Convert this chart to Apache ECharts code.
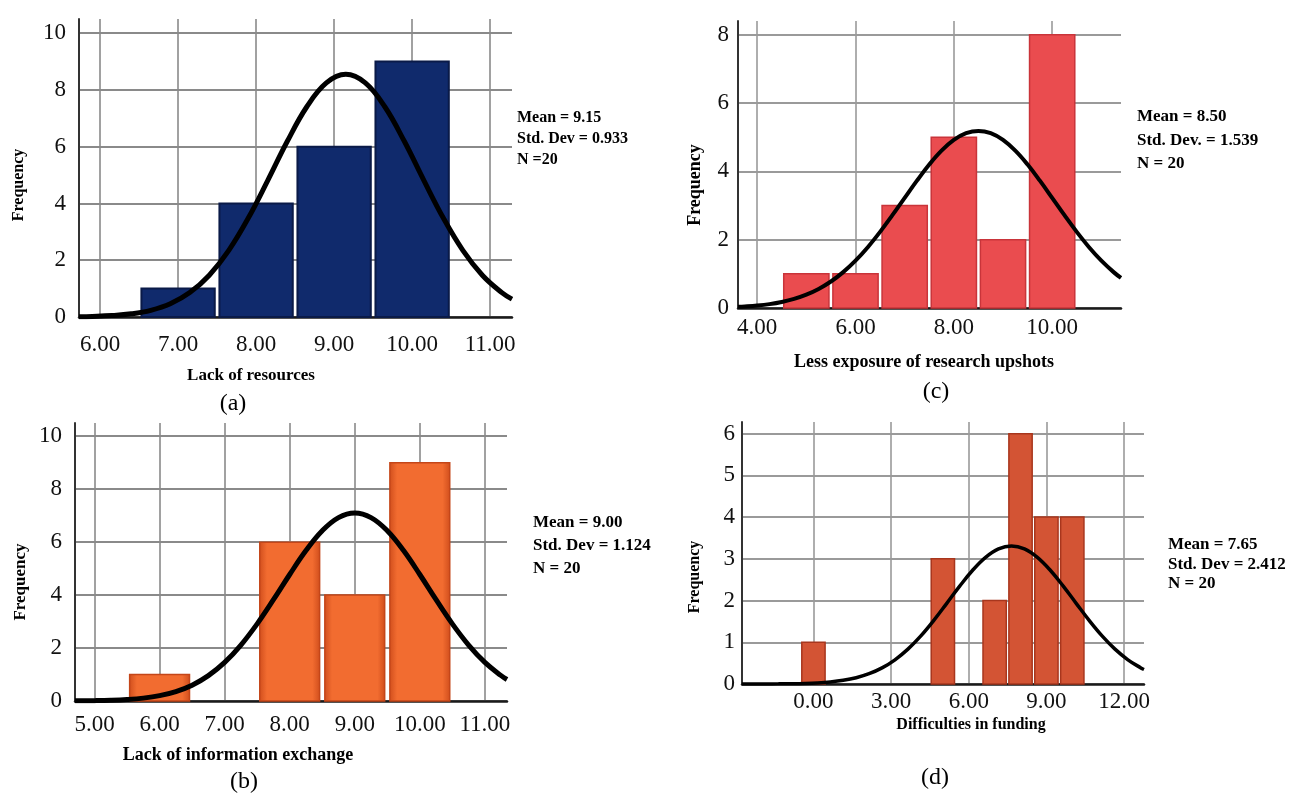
<!DOCTYPE html>
<html>
<head>
<meta charset="utf-8">
<script src="https://cdn.jsdelivr.net/npm/echarts@6/dist/echarts.min.js"></script>
<style>
  html, body { margin: 0; padding: 0; background: #fff; }
  #main { width: 1299px; height: 794px; }
</style>
</head>
<body>
<div id="main"></div>
<script>
// (a) Lack of resources
var binsA = [7, 8, 9, 10];
var countsA = [1, 4, 6, 9];
var curveXA = [5.73, 5.9, 6.15, 6.4, 6.65, 6.9, 7.15, 7.4, 7.65, 7.9, 8.15, 8.4, 8.65, 8.9, 9.15, 9.4, 9.65, 9.9, 10.15, 10.4, 10.65, 10.9, 11.15, 11.28];
var curveYA = [0.01, 0.02, 0.049, 0.111, 0.236, 0.467, 0.86, 1.473, 2.348, 3.486, 4.815, 6.191, 7.408, 8.25, 8.552, 8.25, 7.408, 6.191, 4.815, 3.486, 2.348, 1.473, 0.86, 0.631];
var ticksXA = [6, 7, 8, 9, 10, 11];
var ticksYA = [0, 2, 4, 6, 8, 10];

// (b) Lack of information exchange
var binsB = [6, 8, 9, 10];
var countsB = [1, 6, 4, 9];
var curveXB = [4.7, 5.0, 5.25, 5.5, 5.75, 6.0, 6.25, 6.5, 6.75, 7.0, 7.25, 7.5, 7.75, 8.0, 8.25, 8.5, 8.75, 9.0, 9.25, 9.5, 9.75, 10.0, 10.25, 10.5, 10.75, 11.0, 11.25, 11.34];
var curveYB = [0.005, 0.013, 0.027, 0.056, 0.109, 0.202, 0.356, 0.598, 0.958, 1.458, 2.113, 2.914, 3.825, 4.778, 5.682, 6.43, 6.926, 7.099, 6.926, 6.43, 5.682, 4.778, 3.825, 2.914, 2.113, 1.458, 0.958, 0.813];
var ticksXB = [5, 6, 7, 8, 9, 10, 11];
var ticksYB = [0, 2, 4, 6, 8, 10];

// (c) Less exposure of research upshots
var binsC = [5, 6, 7, 8, 9, 10];
var countsC = [1, 1, 3, 5, 2, 8];
var curveXC = [3.61, 3.75, 4.0, 4.25, 4.5, 4.75, 5.0, 5.25, 5.5, 5.75, 6.0, 6.25, 6.5, 6.75, 7.0, 7.25, 7.5, 7.75, 8.0, 8.25, 8.5, 8.75, 9.0, 9.25, 9.5, 9.75, 10.0, 10.25, 10.5, 10.75, 11.0, 11.25, 11.4];
var curveYC = [0.033, 0.044, 0.072, 0.114, 0.177, 0.266, 0.39, 0.557, 0.775, 1.05, 1.386, 1.78, 2.228, 2.716, 3.224, 3.727, 4.198, 4.604, 4.918, 5.116, 5.184, 5.116, 4.918, 4.604, 4.198, 3.727, 3.224, 2.716, 2.228, 1.78, 1.386, 1.05, 0.879];
var ticksXC = [4, 6, 8, 10];
var ticksYC = [0, 2, 4, 6, 8];

// (d) Difficulties in funding
var binsD = [0, 5, 7, 8, 9, 10];
var countsD = [1, 3, 2, 6, 4, 4];
var curveXD = [-2.76, -2.35, -1.85, -1.35, -0.85, -0.35, 0.15, 0.65, 1.15, 1.65, 2.15, 2.65, 3.15, 3.65, 4.15, 4.65, 5.15, 5.65, 6.15, 6.65, 7.15, 7.65, 8.15, 8.65, 9.15, 9.65, 10.15, 10.65, 11.15, 11.65, 12.15, 12.65, 12.77];
var curveYD = [0.0003, 0.0006, 0.0014, 0.0031, 0.0067, 0.0135, 0.0263, 0.0491, 0.0876, 0.15, 0.246, 0.386, 0.58, 0.836, 1.154, 1.526, 1.933, 2.346, 2.726, 3.035, 3.238, 3.308, 3.238, 3.035, 2.726, 2.346, 1.933, 1.526, 1.154, 0.836, 0.58, 0.386, 0.348];
var ticksXD = [0, 3, 6, 9, 12];
var ticksYD = [0, 1, 2, 3, 4, 5, 6];

var statsA = ['Mean = 9.15', 'Std. Dev = 0.933', 'N =20'];
var statsB = ['Mean = 9.00', 'Std. Dev = 1.124', 'N = 20'];
var statsC = ['Mean = 8.50', 'Std. Dev. = 1.539', 'N = 20'];
var statsD = ['Mean = 7.65', 'Std. Dev = 2.412', 'N = 20'];

var myChart = echarts.init(document.getElementById('main'));

function zip(xs, ys) {
    return xs.map(function (x, i) { return [x, ys[i]]; });
}

// histogram bar drawn from bin center +- half width, down to 0
function barRender(half) {
    return function (params, api) {
        var x = api.value(0), y = api.value(1);
        var p0 = api.coord([x - half, y]);
        var p1 = api.coord([x + half, 0]);
        return {
            type: 'rect',
            shape: { x: p0[0], y: p0[1], width: p1[0] - p0[0], height: p1[1] - p0[1] },
            style: api.style()
        };
    };
}

var serif = '"Liberation Serif", "Times New Roman", serif';

function xAxisOf(idx, min, max, ticks, margin, gridColor) {
    return {
        type: 'value', gridIndex: idx, min: min, max: max,
        axisLine: { show: true, onZero: false, lineStyle: { color: '#1a1a1a', width: 2.5 } },
        axisTick: { show: false, customValues: ticks },
        axisLabel: {
            customValues: ticks, margin: margin, color: '#111',
            fontFamily: serif, fontSize: 23,
            formatter: function (v) { return v.toFixed(2); }
        },
        splitLine: { show: true, lineStyle: { color: gridColor, width: 1.6 } }
    };
}

function yAxisOf(idx, max, ticks, margin, gridColor) {
    return {
        type: 'value', gridIndex: idx, min: 0, max: max,
        axisLine: { show: true, onZero: false, lineStyle: { color: '#333', width: 2 } },
        axisTick: { show: false, customValues: ticks },
        axisLabel: {
            customValues: ticks, margin: margin, color: '#111',
            fontFamily: serif, fontSize: 23
        },
        splitLine: { show: true, lineStyle: { color: gridColor, width: 1.8 } }
    };
}

function curve(idx, xs, ys, w) {
    return {
        type: 'line', xAxisIndex: idx, yAxisIndex: idx, z: 5,
        data: zip(xs, ys), smooth: 0.4, showSymbol: false, silent: true,
        lineStyle: { color: '#000', width: w }
    };
}

function hist(idx, bins, counts, half, itemStyle) {
    return {
        type: 'custom', xAxisIndex: idx, yAxisIndex: idx, z: 3,
        data: zip(bins, counts), encode: { x: 0, y: 1 },
        renderItem: barRender(half), itemStyle: itemStyle
    };
}

function txt(x, y, text, font, rot) {
    return {
        type: 'text', x: x, y: y, rotation: rot || 0,
        style: { text: text, font: font, fill: '#000', textAlign: 'center', textVerticalAlign: 'middle' }
    };
}

function stats(x, y, lines, size, lh) {
    return {
        type: 'text', x: x, y: y,
        style: {
            text: lines.join('\n'), font: 'bold ' + size + 'px ' + serif, fill: '#000',
            lineHeight: lh, textAlign: 'left', textVerticalAlign: 'top'
        }
    };
}

var orangeGrad = new echarts.graphic.LinearGradient(0, 0, 1, 0, [
    { offset: 0, color: '#cf4d1c' },
    { offset: 0.13, color: '#f26c30' },
    { offset: 0.87, color: '#f26c30' },
    { offset: 1, color: '#cf4d1c' }
]);

var option = {
    backgroundColor: '#fff',
    animation: false,
    grid: [
        { left: 79, top: 19, width: 433, height: 298 },
        { left: 75, top: 423, width: 432, height: 278 },
        { left: 738, top: 21, width: 383, height: 287 },
        { left: 742, top: 422, width: 402, height: 262 }
    ],
    xAxis: [
        xAxisOf(0, 5.73, 11.28, ticksXA, 16, '#8a8a8a'),
        xAxisOf(1, 4.70, 11.34, ticksXB, 12, '#8a8a8a'),
        xAxisOf(2, 3.61, 11.40, ticksXC, 8, '#9a9a9a'),
        xAxisOf(3, -2.76, 12.77, ticksXD, 6, '#9a9a9a')
    ],
    yAxis: [
        yAxisOf(0, 10.5, ticksYA, 13, '#8a8a8a'),
        yAxisOf(1, 10.5, ticksYB, 13, '#8a8a8a'),
        yAxisOf(2, 8.4, ticksYC, 9, '#9a9a9a'),
        yAxisOf(3, 6.28, ticksYD, 7, '#9a9a9a')
    ],
    series: [
        hist(0, binsA, countsA, 0.47, { color: '#102a6c', borderColor: '#0a1a48', borderWidth: 2 }),
        curve(0, curveXA, curveYA, 5),
        hist(1, binsB, countsB, 0.46, { color: orangeGrad, borderColor: '#c44619', borderWidth: 1.5 }),
        curve(1, curveXB, curveYB, 5),
        hist(2, binsC, countsC, 0.46, { color: '#ea4c4f', borderColor: '#c9343a', borderWidth: 1.5 }),
        curve(2, curveXC, curveYC, 4),
        hist(3, binsD, countsD, 0.45, { color: '#d35434', borderColor: '#a8361d', borderWidth: 1.5 }),
        curve(3, curveXD, curveYD, 3.5)
    ],
    graphic: [
        txt(19, 185, 'Frequency', 'bold 16px ' + serif, Math.PI / 2),
        txt(251, 376, 'Lack of resources', 'bold 17px ' + serif),
        txt(233, 404, '(a)', '24px ' + serif),
        stats(517, 107, statsA, 16, 21),

        txt(21, 582, 'Frequency', 'bold 17px ' + serif, Math.PI / 2),
        txt(238, 755, 'Lack of information exchange', 'bold 18px ' + serif),
        txt(244, 782, '(b)', '24px ' + serif),
        stats(533, 511, statsB, 17, 23),

        txt(695, 185, 'Frequency', 'bold 18px ' + serif, Math.PI / 2),
        txt(924, 362, 'Less exposure of research upshots', 'bold 18px ' + serif),
        txt(936, 392, '(c)', '24px ' + serif),
        stats(1137, 105, statsC, 17, 23.5),

        txt(695, 577, 'Frequency', 'bold 16px ' + serif, Math.PI / 2),
        txt(971, 725, 'Difficulties in funding', 'bold 16px ' + serif),
        txt(935, 778, '(d)', '24px ' + serif),
        stats(1168, 535, statsD, 17, 19.5)
    ]
};

myChart.setOption(option);
</script>
</body>
</html>
